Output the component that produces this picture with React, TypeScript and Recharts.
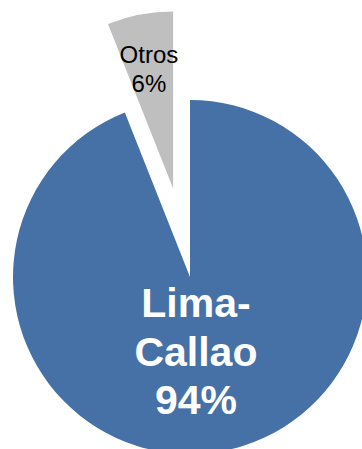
import { PieChart, Pie, Cell } from "recharts";

const regions = ["Lima-Callao", "Otros"];
const shares = [94, 6];
const colors = ["#4571A7", "#BFBFBF"];
const labelLines = [["Lima-", "Callao", "94%"], ["Otros", "6%"]];

const data = regions.map((name, i) => ({ name, value: shares[i] }));

const CX = 190;
const CY = 277;
const R = 177;
const EXPLODE = 90;

// mid angle of the exploded slice (Otros), clockwise from 12 o'clock
const total = shares.reduce((a, b) => a + b, 0);
const otrosMid = 90 - 360 * ((shares[0] + shares[1] / 2) / total);
const rad = (otrosMid * Math.PI) / 180;
const ox = EXPLODE * Math.cos(rad);
const oy = -EXPLODE * Math.sin(rad);

const RAD = Math.PI / 180;

if (typeof document !== "undefined") {
  document.body.style.margin = "0";
  document.body.style.overflow = "hidden";
}

const renderLabel = (visible: number) => (props: any) => {
  const { cx, cy, midAngle, outerRadius, index } = props;
  if (index !== visible) return null;
  const lines = labelLines[index];
  if (index === 0) {
    const r = outerRadius * 0.45;
    const px = cx + r * Math.cos(-midAngle * RAD) - 9;
    const py = cy - r * Math.sin(midAngle * RAD);
    return (
      <text
        x={px}
        y={py - 38}
        textAnchor="middle"
        fill="#fff"
        fontSize={41}
        fontWeight="bold"
        fontFamily="'Liberation Sans', Arial, sans-serif"
      >
        {lines.map((l, i) => (
          <tspan key={i} x={px} dy={i === 0 ? 0 : 48.5}>
            {l}
          </tspan>
        ))}
      </text>
    );
  }
  const r = outerRadius * 0.7;
  const px = cx + r * Math.cos(-midAngle * RAD) - 1;
  const py = cy - r * Math.sin(midAngle * RAD);
  return (
    <text
      x={px}
      y={py - 4}
      textAnchor="middle"
      fill="#000"
      fontSize={24}
      fontFamily="'Liberation Sans', Arial, sans-serif"
    >
      {lines.map((l, i) => (
        <tspan key={i} x={px} dy={i === 0 ? 0 : 29}>
          {l}
        </tspan>
      ))}
    </text>
  );
};

export default function App() {
  return (
    <div style={{ width: 362, height: 449, background: "#fff" }}>
      <PieChart width={362} height={449} margin={{ top: 0, right: 0, bottom: 0, left: 0 }}>
        <Pie
          data={data}
          dataKey="value"
          nameKey="name"
          cx={CX}
          cy={CY}
          outerRadius={R}
          startAngle={90}
          endAngle={-270}
          stroke="none"
          labelLine={false}
          label={renderLabel(0)}
          isAnimationActive={false}
        >
          {data.map((d, i) => (
            <Cell key={d.name} fill={i === 0 ? colors[0] : "transparent"} />
          ))}
        </Pie>
        <Pie
          data={data}
          dataKey="value"
          nameKey="name"
          cx={CX + ox}
          cy={CY + oy}
          outerRadius={R}
          startAngle={90}
          endAngle={-270}
          stroke="none"
          labelLine={false}
          label={renderLabel(1)}
          isAnimationActive={false}
        >
          {data.map((d, i) => (
            <Cell key={d.name} fill={i === 1 ? colors[1] : "transparent"} />
          ))}
        </Pie>
      </PieChart>
    </div>
  );
}
